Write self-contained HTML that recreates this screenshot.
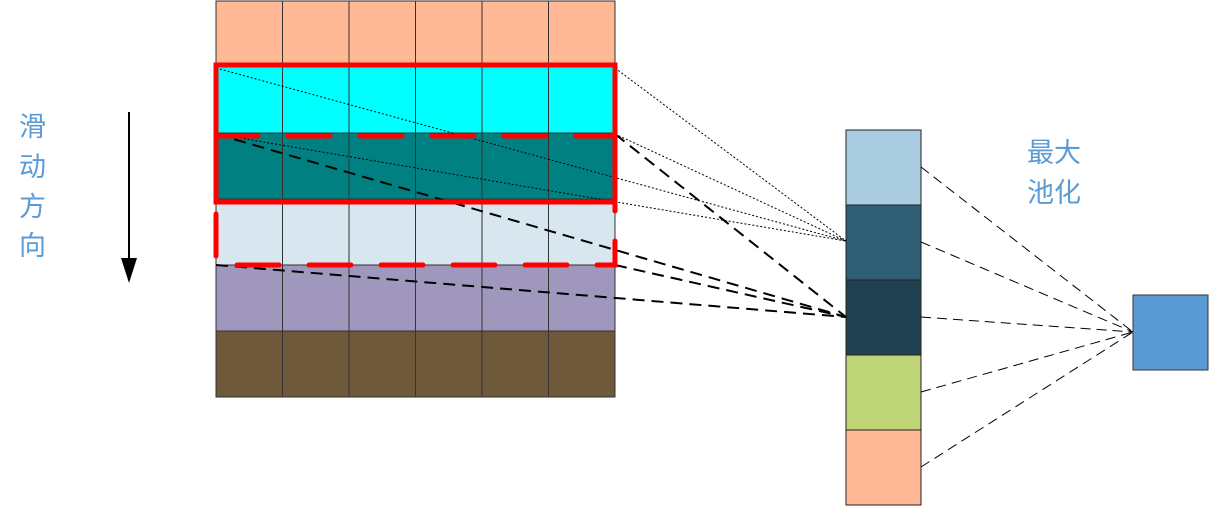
<!DOCTYPE html>
<html><head><meta charset="utf-8"><style>
html,body{margin:0;padding:0;background:#fff;}
svg{display:block;}
text{font-family:"Liberation Sans","Noto Sans CJK SC",sans-serif;fill:#5B9BD5;font-size:27px;}
</style></head><body>
<svg width="1210" height="507" viewBox="0 0 1210 507">
<defs><marker id="ah" markerWidth="10" markerHeight="14" refX="5" refY="14" orient="auto" markerUnits="userSpaceOnUse"><path d="M0,0 L10,0 L5,14 Z" fill="#000" transform="rotate(0)"/></marker></defs>
<g id="grid"></g>
<g id="col"></g>
<rect x="1133" y="295" width="75" height="75" fill="#5B9BD5" stroke="#333" stroke-width="1"/>
<g id="lines"></g>
<rect x="216" y="65" width="399" height="137" fill="none" stroke="#f00" stroke-width="5"/>
<rect x="216" y="136" width="399" height="129" fill="none" stroke="#f00" stroke-width="5" stroke-dasharray="42,30" stroke-linecap="round"/>
<line x1="129" y1="112" x2="129" y2="268" stroke="#000" stroke-width="2"/>
<path d="M121,258 L137,258 L129,283 Z" fill="#000"/>
<g>
<text x="19" y="136">滑</text><text x="19" y="176">动</text><text x="19" y="216">方</text><text x="19" y="255">向</text></g>
<g>
<text x="1027" y="162">最大</text><text x="1027" y="202">池化</text></g>
</svg>
<script>
const rowColors=["#FFB994","#00FFFF","#008080","#D7E6EF","#A097BD","#6E5A3A"];
const colColors=["#A9CCE0","#2F5E75","#21404F","#BFD377","#FFB994"];
const NS="http://www.w3.org/2000/svg";
const g=document.getElementById('grid');
const gx=216,gw=399,gy=1,rh=66,cw=gw/6;
rowColors.forEach((c,r)=>{for(let k=0;k<6;k++){const e=document.createElementNS(NS,'rect');
e.setAttribute('x',gx+k*cw);e.setAttribute('y',gy+r*rh);e.setAttribute('width',cw);e.setAttribute('height',rh);
e.setAttribute('fill',c);e.setAttribute('stroke','#333');e.setAttribute('stroke-width','1');


g.appendChild(e);}});
const col=document.getElementById('col');
const cx=846,cy=130,ch=75;
colColors.forEach((c,i)=>{const e=document.createElementNS(NS,'rect');
e.setAttribute('x',cx);e.setAttribute('y',cy+i*ch);e.setAttribute('width',75);e.setAttribute('height',ch);
e.setAttribute('fill',c);e.setAttribute('stroke','#222');e.setAttribute('stroke-width','1');


col.appendChild(e);});
const L=document.getElementById('lines');
function ln(x1,y1,x2,y2,dash,w){const e=document.createElementNS(NS,'line');
e.setAttribute('x1',x1);e.setAttribute('y1',y1);e.setAttribute('x2',x2);e.setAttribute('y2',y2);
e.setAttribute('stroke','#000');e.setAttribute('stroke-width',w);e.setAttribute('stroke-dasharray',dash);


L.appendChild(e);}
[[216,68],[615,68],[216,134],[615,134]].forEach(p=>ln(p[0],p[1],846,241,"2,2",1));
[[216,134],[615,134],[216,265],[615,265]].forEach(p=>ln(p[0],p[1],846,317,"12,7",2));
for(let i=0;i<5;i++)ln(921,cy+i*ch+37,1133,332,"10,6",1);
</script>
</body></html>
